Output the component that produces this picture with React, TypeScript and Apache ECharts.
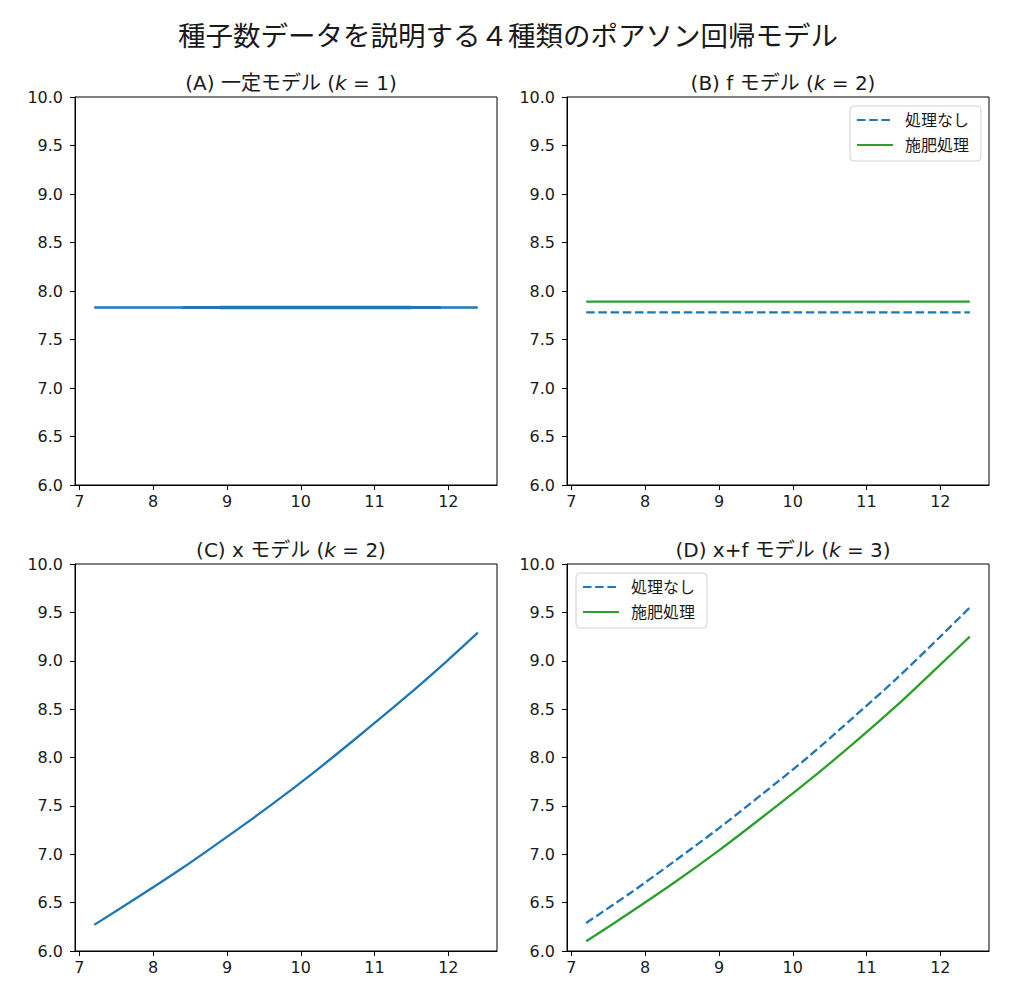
import React, { useEffect, useRef } from "react";
import * as echarts from "echarts";

// ---- data ----
const xEnds = [7.2, 12.4];
const constModelY = [7.83, 7.83];
const constMidX = [8.4, 11.9];
const constThickX = [8.9, 11.5];
const fModelNoneY = [7.78, 7.78];
const fModelFertY = [7.89, 7.89];
const curveX = [7.2, 7.8, 8.4, 9.0, 9.6, 10.2, 10.8, 11.4, 12.0, 12.4];
const xModelY = [6.27, 6.56, 6.86, 7.18, 7.51, 7.86, 8.23, 8.61, 9.01, 9.29];
const xfNoneY = [6.29, 6.6, 6.93, 7.27, 7.63, 8.0, 8.4, 8.81, 9.25, 9.55];
const xfFertY = [6.1, 6.4, 6.71, 7.04, 7.39, 7.75, 8.13, 8.53, 8.96, 9.25];
const xTickValues = [7, 8, 9, 10, 11, 12];
const legendNames = ["処理なし", "施肥処理"];
const mainTitle = "種子数データを説明する４種類のポアソン回帰モデル";
const panelTitles = [
  "(A) 一定モデル ({i|k} = 1)",
  "(B) f モデル ({i|k} = 2)",
  "(C) x モデル ({i|k} = 2)",
  "(D) x+f モデル ({i|k} = 3)",
];

const FONT = "'DejaVu Sans', 'Noto Sans CJK JP', sans-serif";
const BLUE = "#1f77b4";
const GREEN = "#2ca02c";
const TXT = "#1a1a1a";
const LW = 2.3;
const DASH = [8.5, 3.7];

const pairs = (xs: number[], ys: number[]) => xs.map((x, i) => [x, ys[i]]);

export default function App() {
  const ref = useRef<HTMLDivElement>(null);
  useEffect(() => {
    if (!ref.current) return;
    const chart = echarts.init(ref.current, undefined, { renderer: "svg" });
    const grids = [
      { left: 75, top: 97, width: 422, height: 388 },
      { left: 567, top: 97, width: 422, height: 388 },
      { left: 75, top: 564, width: 422, height: 387 },
      { left: 567, top: 564, width: 422, height: 387 },
    ];
    const titleTops = [68, 68, 535, 535];
    const legendBase = {
      data: legendNames,
      orient: "vertical",
      padding: [6, 12, 8, 6],
      itemGap: 9,
      itemWidth: 36,
      itemHeight: 16,
      borderColor: "#d0d0d0",
      borderWidth: 1,
      borderRadius: 4,
      backgroundColor: "#fff",
      itemStyle: { opacity: 0 },
      textStyle: { fontSize: 16, color: TXT, fontFamily: FONT, padding: [0, 0, 0, 7] },
      selectedMode: false,
    };
    const line = (
      name: string,
      idx: number,
      data: number[][],
      color: string,
      extra: any = {}
    ) => ({
      type: "line",
      name,
      xAxisIndex: idx,
      yAxisIndex: idx,
      data,
      showSymbol: false,
      symbol: "none",
      lineStyle: { color, width: LW, ...(extra.lineStyle || {}) },
      itemStyle: { color },
      smooth: extra.smooth || false,
      z: extra.z || 2,
    });
    const option: any = {
      animation: false,
      backgroundColor: "#fff",
      textStyle: { fontFamily: FONT },
      title: [
        {
          text: mainTitle,
          left: "center",
          top: 17,
          textStyle: { fontFamily: FONT, fontSize: 27.5, fontWeight: "normal", color: TXT },
        },
        ...panelTitles.map((t, i) => ({
          text: t,
          left: grids[i].left + grids[i].width / 2,
          textAlign: "center",
          top: titleTops[i],
          textStyle: {
            fontFamily: FONT,
            fontSize: 20,
            fontWeight: "normal",
            color: TXT,
            rich: {
              i: { fontFamily: FONT, fontSize: 20, fontStyle: "italic", color: TXT },
            },
          },
        })),
      ],
      grid: grids.map((g) => ({
        ...g,
        show: true,
        borderColor: "#000",
        borderWidth: 1,
        backgroundColor: "transparent",
        containLabel: false,
      })),
      xAxis: grids.map((_, i) => ({
        type: "value",
        gridIndex: i,
        min: 6.94,
        max: 12.66,
        splitLine: { show: false },
        axisLine: { show: true, lineStyle: { color: "#000", width: 1 } },
        axisTick: {
          show: true,
          inside: false,
          length: 5,
          customValues: xTickValues,
          lineStyle: { color: "#000" },
        },
        axisLabel: {
          customValues: xTickValues,
          fontSize: 16,
          color: TXT,
          fontFamily: FONT,
          margin: 8,
        },
      })),
      yAxis: grids.map((_, i) => ({
        type: "value",
        gridIndex: i,
        min: 6,
        max: 10,
        interval: 0.5,
        splitLine: { show: false },
        axisLine: { show: true, lineStyle: { color: "#000", width: 1 } },
        axisTick: { show: true, inside: false, length: 5, lineStyle: { color: "#000" } },
        axisLabel: {
          fontSize: 16,
          color: TXT,
          fontFamily: FONT,
          margin: 12,
          formatter: (v: number) => v.toFixed(1),
        },
      })),
      legend: [
        { ...legendBase, right: 35, top: 106 },
        { ...legendBase, left: 576, top: 573 },
      ],
      series: [
        line("一定", 0, pairs(xEnds, constModelY), BLUE),
        line("一定b", 0, pairs(constMidX, constModelY), BLUE, { lineStyle: { width: 2.9, opacity: 0.9 } }),
        line("一定c", 0, pairs(constThickX, constModelY), BLUE, { lineStyle: { width: 3.6 } }),
        line(legendNames[0], 1, pairs(xEnds, fModelNoneY), BLUE, { lineStyle: { type: DASH } }),
        line(legendNames[1], 1, pairs(xEnds, fModelFertY), GREEN),
        line("x", 2, pairs(curveX, xModelY), BLUE, { smooth: 0.3 }),
        line(legendNames[0], 3, pairs(curveX, xfNoneY), BLUE, { smooth: 0.3, lineStyle: { type: DASH } }),
        line(legendNames[1], 3, pairs(curveX, xfFertY), GREEN, { smooth: 0.3 }),
      ],
    };
    chart.setOption(option);
    return () => chart.dispose();
  }, []);
  return (
    <div
      ref={ref}
      style={{ position: "fixed", left: 0, top: 0, width: 1016, height: 990, background: "#fff" }}
    />
  );
}
